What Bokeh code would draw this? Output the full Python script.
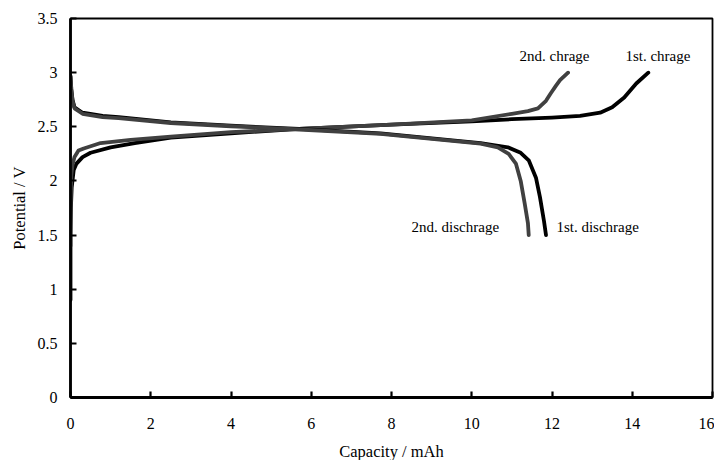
from bokeh.plotting import figure
from bokeh.models import Range1d, FixedTicker, Label
from bokeh.embed import file_html
from bokeh.resources import INLINE

# ---- data ----
dis1_x = [0, 0.02, 0.05, 0.1, 0.3, 0.8, 1.2, 2.5, 4, 5.7, 7.73, 10.22, 10.9, 11.22, 11.42, 11.6, 11.7, 11.8, 11.85]
dis1_y = [2.97, 2.85, 2.75, 2.68, 2.63, 2.6, 2.59, 2.54, 2.51, 2.48, 2.44, 2.35, 2.31, 2.26, 2.19, 2.03, 1.85, 1.63, 1.5]

dis2_x = [0, 0.02, 0.05, 0.1, 0.3, 0.8, 1.2, 2.5, 4, 5.7, 7.73, 10.22, 10.65, 10.92, 11.1, 11.22, 11.32, 11.4, 11.42]
dis2_y = [2.96, 2.84, 2.74, 2.67, 2.62, 2.59, 2.58, 2.535, 2.505, 2.475, 2.435, 2.345, 2.31, 2.25, 2.16, 2.0, 1.79, 1.61, 1.5]

ch1_x = [0, 0, 0, 0.01, 0.03, 0.08, 0.15, 0.3, 0.5, 1, 1.6, 2.5, 4, 5.7, 8, 10, 11, 12, 12.7, 13.2, 13.5, 13.8, 14.1, 14.4]
ch1_y = [0.9, 1.2, 1.5, 1.75, 1.94, 2.1, 2.16, 2.22, 2.26, 2.31, 2.35, 2.40, 2.44, 2.48, 2.52, 2.55, 2.57, 2.585, 2.60, 2.63, 2.68, 2.77, 2.90, 3.0]

ch2_x = [0, 0, 0.01, 0.02, 0.05, 0.1, 0.2, 0.33, 0.75, 1.5, 2.5, 4, 5.7, 8, 10, 11, 11.4, 11.65, 11.85, 11.97, 12.1, 12.2, 12.4]
ch2_y = [1.4, 1.7, 1.9, 2.05, 2.15, 2.22, 2.28, 2.30, 2.35, 2.38, 2.41, 2.45, 2.48, 2.52, 2.56, 2.62, 2.645, 2.67, 2.74, 2.81, 2.88, 2.93, 3.0]

x_ticks = [0, 2, 4, 6, 8, 10, 12, 14, 16]
y_ticks = [0, 0.5, 1, 1.5, 2, 2.5, 3, 3.5]

label_text = ["2nd. chrage", "1st. chrage", "2nd. dischrage", "1st. dischrage"]
label_x = [11.19, 13.83, 8.50, 12.11]
label_y = [3.15, 3.15, 1.57, 1.57]

FONT = "Liberation Serif"
BLACK = "#000000"
GRAY = "#404040"

p = figure(frame_width=642, frame_height=379, output_backend="svg", toolbar_location=None,
           x_range=Range1d(0, 16), y_range=Range1d(0, 3.5),
           min_border_left=70, min_border_right=2, min_border_top=18, min_border_bottom=62)

p.line(ch1_x, ch1_y, line_color=BLACK, line_width=3.8, line_join="round", line_cap="round")
p.line(ch2_x, ch2_y, line_color=GRAY, line_width=3.8, line_join="round", line_cap="round")
p.line(dis1_x, dis1_y, line_color=BLACK, line_width=3.8, line_join="round", line_cap="round")
p.line(dis2_x, dis2_y, line_color=GRAY, line_width=3.8, line_join="round", line_cap="round")

for t, x, y in zip(label_text, label_x, label_y):
    p.add_layout(Label(x=x, y=y, text=t, text_font=FONT, text_font_size="15px",
                       text_color=BLACK, text_baseline="middle", text_align="left"))

p.xgrid.visible = False
p.ygrid.visible = False
p.outline_line_color = BLACK
p.outline_line_width = 1.8
p.background_fill_color = "white"
p.border_fill_color = "white"

for ax in (p.xaxis[0], p.yaxis[0]):
    ax.axis_line_color = BLACK
    ax.axis_line_width = 2.8
    ax.major_tick_in = 6
    ax.major_tick_out = 0
    ax.major_tick_line_width = 2.2
    ax.major_tick_line_color = BLACK
    ax.minor_tick_line_color = None
    ax.major_label_text_font = FONT
    ax.major_label_text_font_size = "16px"
    ax.major_label_text_color = BLACK
    ax.axis_label_text_font = FONT
    ax.axis_label_text_font_size = "16.5px"
    ax.axis_label_text_font_style = "normal"
    ax.axis_label_text_color = BLACK

p.xaxis[0].ticker = FixedTicker(ticks=x_ticks)
p.yaxis[0].ticker = FixedTicker(ticks=y_ticks)
p.xaxis[0].axis_label = "Capacity / mAh"
p.yaxis[0].axis_label = "Potential / V"
p.xaxis[0].major_label_standoff = 20
p.yaxis[0].major_label_standoff = 13
p.xaxis[0].axis_label_standoff = 10
p.yaxis[0].axis_label_standoff = 6
p.yaxis[0].major_label_overrides = {0: "0", 1: "1", 2: "2", 3: "3"}

open("out.html", "w").write(file_html(p, INLINE))
